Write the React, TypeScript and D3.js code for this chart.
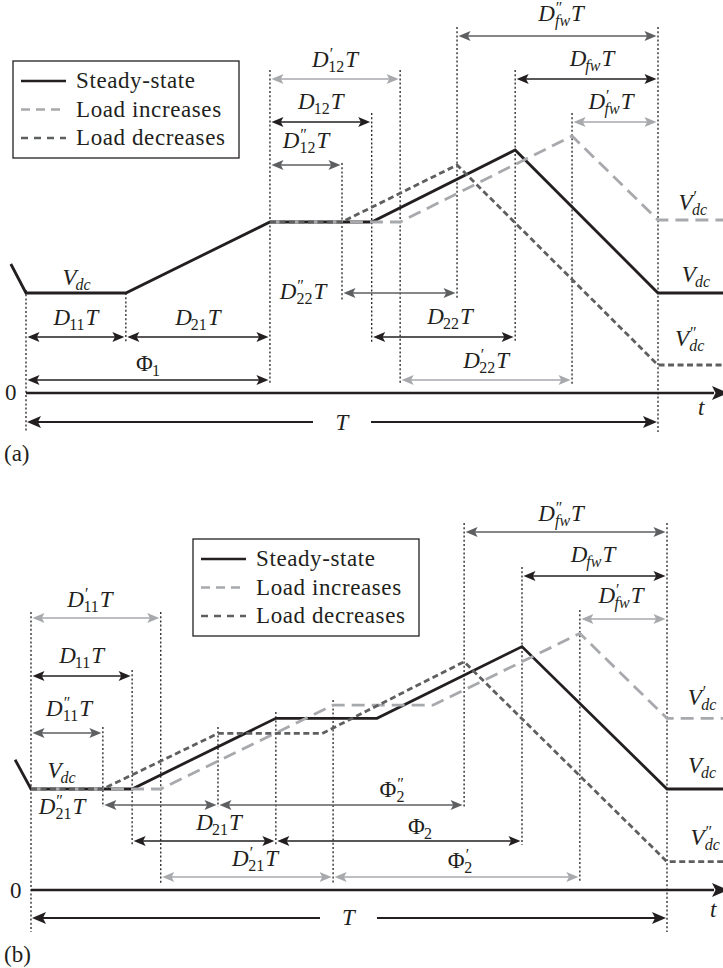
import * as d3 from 'd3';

type Pt = [number, number];
type Kind = 'steady' | 'increase' | 'decrease';
type Sym = { m: string; p: number; s: string; t: string };

// time in % of the period T, voltage in units of the steady-state Vdc
// ---- panel (a)
const steadyA: Pt[] = [[-2.4, 1.29], [0, 1], [15.8, 1], [38.6, 1.71], [54.7, 1.71], [77.4, 2.43], [100, 1], [111, 1]];
const increaseA: Pt[] = [[38.6, 1.71], [59.2, 1.71], [86.4, 2.57], [100, 1.73], [111, 1.73]];
const decreaseA: Pt[] = [[38.6, 1.71], [50, 1.71], [68.2, 2.28], [100, 0.28], [111, 0.28]];
const guideTimesA = [0, 15.8, 38.6, 50, 54.7, 59.2, 68.2, 77.4, 86.4, 100];

// ---- panel (b)
const steadyB: Pt[] = [[-2.5, 1.29], [0, 1], [15.9, 1], [38.5, 1.7], [54.4, 1.7], [77.2, 2.41], [100, 1], [111, 1]];
const increaseB: Pt[] = [[0, 1], [20.4, 1], [47.5, 1.83], [63.2, 1.83], [86.3, 2.54], [100, 1.7], [111, 1.7]];
const decreaseB: Pt[] = [[0, 1], [11.3, 1], [29.4, 1.55], [45.8, 1.55], [68.1, 2.26], [100, 0.28], [111, 0.28]];
const guideTimesB = [0, 11.3, 15.9, 20.4, 29.4, 38.5, 47.5, 68.1, 77.2, 86.3, 100];

const legendLabels = ['Steady-state', 'Load increases', 'Load decreases'];
const legendKinds: Kind[] = ['steady', 'increase', 'decrease'];

const S = (m: string, p: number, s: string, t = ''): Sym => ({ m, p, s, t });

// dimension arrows: [symbol, t0, t1, kind]
const spansA: [Sym, number, number, Kind][] = [
  [S('D', 1, '12', 'T'), 38.6, 59.2, 'increase'],
  [S('D', 0, '12', 'T'), 38.6, 54.7, 'steady'],
  [S('D', 2, '12', 'T'), 38.6, 50, 'decrease'],
  [S('D', 2, 'fw', 'T'), 68.2, 100, 'decrease'],
  [S('D', 0, 'fw', 'T'), 77.4, 100, 'steady'],
  [S('D', 1, 'fw', 'T'), 86.4, 100, 'increase'],
  [S('D', 0, '11', 'T'), 0, 15.8, 'steady'],
  [S('D', 0, '21', 'T'), 15.8, 38.6, 'steady'],
  [S('Φ', 0, '1'), 0, 38.6, 'steady'],
  [S('D', 2, '22', 'T'), 50, 68.2, 'decrease'],
  [S('D', 0, '22', 'T'), 54.7, 77.4, 'steady'],
  [S('D', 1, '22', 'T'), 59.2, 86.4, 'increase'],
];

const spansB: [Sym, number, number, Kind][] = [
  [S('D', 1, '11', 'T'), 0, 20.4, 'increase'],
  [S('D', 0, '11', 'T'), 0, 15.9, 'steady'],
  [S('D', 2, '11', 'T'), 0, 11.3, 'decrease'],
  [S('D', 2, 'fw', 'T'), 68.1, 100, 'decrease'],
  [S('D', 0, 'fw', 'T'), 77.2, 100, 'steady'],
  [S('D', 1, 'fw', 'T'), 86.3, 100, 'increase'],
  [S('D', 2, '21', 'T'), 11.3, 29.4, 'decrease'],
  [S('Φ', 2, '2'), 29.4, 68.1, 'decrease'],
  [S('D', 0, '21', 'T'), 15.9, 38.5, 'steady'],
  [S('Φ', 0, '2'), 38.5, 77.2, 'steady'],
  [S('D', 1, '21', 'T'), 20.4, 47.5, 'increase'],
  [S('Φ', 1, '2'), 47.5, 86.3, 'increase'],
];

// end-level labels: [symbol, t, v]
const levelsA: [Sym, number, number][] = [
  [S('V', 0, 'dc'), 8, 1],
  [S('V', 1, 'dc'), 105.5, 1.73],
  [S('V', 0, 'dc'), 106, 1],
  [S('V', 2, 'dc'), 105, 0.28],
];
const levelsB: [Sym, number, number][] = [
  [S('V', 0, 'dc'), 4.8, 1],
  [S('V', 1, 'dc'), 105.5, 1.7],
  [S('V', 0, 'dc'), 105.5, 1],
  [S('V', 2, 'dc'), 106, 0.28],
];

// ---- layout (pixels)
const FONT = 'Liberation Serif, Times New Roman, serif';
const FS = 23;
const SUB = 16;
const INK = '#231f20';
const color: Record<Kind, string> = { steady: '#231f20', increase: '#a7a9ac', decrease: '#5e5f61' };
const dash: Record<Kind, string | undefined> = { steady: undefined, increase: '13,7', decrease: '6,3.5' };

// per span: [row y, label x (null = middle), label baseline (null = row - 12)]
const spanLayoutA: [number, number | null, number | null][] = [
  [79, null, null], [122, null, 109], [165, null, 148],
  [36, 561, 21], [79, 592, 66], [122, 611, 109],
  [337, null, 325], [337, null, 325], [380, null, 371],
  [293, 303, 299], [337, 450, 324], [380, null, 368],
];
const spanLayoutB: [number, number | null, number | null][] = [
  [618, 90, 607], [676, null, 663], [733, 69, 716],
  [532, 561, 521], [576, 593, 562], [619, 621, 603],
  [805, 62, 814], [805, 392, 797], [841, 219, 830],
  [841, 420, 834], [877, 255, 866], [877, 460, 868],
];
const guideExtentA: [number, number][] = [
  [290, 432], [293, 343], [70, 385], [163, 300], [113, 343], [70, 385], [27, 300], [70, 342], [113, 385], [27, 432],
];
const guideExtentB: [number, number][] = [
  [612, 932], [727, 807], [670, 845], [612, 883], [727, 807], [712, 845], [700, 883], [523, 807], [567, 845], [610, 883], [523, 932],
];
const levelDyA = [-8, -10, -11, -19];
const levelDyB = [-11, -13, -16, -17];

function head(x: number, y: number, dir: number, len = 12, hw = 5) {
  const bx = x - dir * len;
  const nx = x - dir * len * 0.78;
  return `M${x},${y}L${bx},${y - hw}L${nx},${y}L${bx},${y + hw}Z`;
}

function Label({ sym, x, y }: { sym: Sym; x: number; y: number }) {
  const primes = sym.p === 2 ? '\u2033' : sym.p === 1 ? '\u2032' : '';
  const subItalic = /[a-z]/.test(sym.s);
  return (
    <text x={x} y={y} textAnchor="middle" fontFamily={FONT} fontSize={FS} fill={INK}>
      <tspan fontStyle={sym.m === 'Φ' ? 'normal' : 'italic'}>{sym.m}</tspan>
      {primes && (
        <tspan fontSize={SUB} fontStyle="italic" dy={-8}>
          {primes}
        </tspan>
      )}
      <tspan
        fontSize={SUB}
        fontStyle={subItalic ? 'italic' : 'normal'}
        dx={primes ? (sym.p === 2 ? -6.5 : -4) : -1}
        dy={primes ? 13 : 5}
      >
        {sym.s}
      </tspan>
      {sym.t && (
        <tspan fontStyle="italic" dy={-5} dx={1}>
          {sym.t}
        </tspan>
      )}
    </text>
  );
}

function Legend({ x, y }: { x: number; y: number }) {
  return (
    <g transform={`translate(${x},${y})`}>
      <rect x={0} y={0} width={226} height={97} fill="white" stroke={INK} strokeWidth={1.3} />
      {legendLabels.map((lab, i) => {
        const ry = 20 + i * 28.5;
        return (
          <g key={lab}>
            <line x1={8} x2={53} y1={ry} y2={ry} stroke={color[legendKinds[i]]} strokeWidth={2.6}
              strokeDasharray={i === 0 ? undefined : i === 1 ? '9,6' : '7,6'} />
            <text x={63} y={ry + 7} fontFamily={FONT} fontSize={FS} letterSpacing={0.6} fill={INK}>{lab}</text>
          </g>
        );
      })}
    </g>
  );
}

type PanelProps = {
  x0: number; x1: number; yAxis: number; yVdc: number;
  curves: Record<Kind, Pt[]>;
  spans: [Sym, number, number, Kind][];
  spanLayout: [number, number | null, number | null][];
  guides: number[]; guideExtent: [number, number][];
  levels: [Sym, number, number][]; levelDy: number[];
  tRow: number; tGap: [number, number]; tLabelY: number;
  legend: [number, number];
  zero: [number, number]; tText: [number, number];
  tag: string; tagY: number;
};

function Panel(p: PanelProps) {
  const x = d3.scaleLinear().domain([0, 100]).range([p.x0, p.x1]);
  const y = d3.scaleLinear().domain([0, 1]).range([p.yAxis, p.yVdc]);
  const line = d3.line<Pt>().x((d) => x(d[0])).y((d) => y(d[1]));
  const order: Kind[] = ['steady', 'increase', 'decrease'];
  const axisEnd = 724;
  return (
    <g>
      {/* dotted guides */}
      {p.guides.map((t, i) => (
        <line key={`g${i}`} x1={x(t)} x2={x(t)} y1={p.guideExtent[i][0]} y2={p.guideExtent[i][1]}
          stroke={INK} strokeWidth={1.3} strokeDasharray="2,2.2" />
      ))}

      {/* waveforms */}
      {order.map((k) => (
        <path key={k} d={line(p.curves[k]) || ''} fill="none" stroke={color[k]} strokeWidth={2.8}
          strokeDasharray={dash[k]} strokeLinejoin="miter" />
      ))}

      {/* time axis */}
      <line x1={x(0)} x2={axisEnd - 10} y1={y(0)} y2={y(0)} stroke={INK} strokeWidth={2.6} />
      <path d={head(axisEnd + 4, y(0), 1, 16, 7)} fill={INK} />
      <text x={p.zero[0]} y={p.zero[1]} fontFamily={FONT} fontSize={FS} fill={INK}>0</text>
      <text x={p.tText[0]} y={p.tText[1]} fontFamily={FONT} fontSize={FS} fontStyle="italic" fill={INK}>t</text>

      {/* period T */}
      <line x1={x(0) + 8} x2={p.tGap[0]} y1={p.tRow} y2={p.tRow} stroke={INK} strokeWidth={2} />
      <line x1={p.tGap[1]} x2={x(100) - 8} y1={p.tRow} y2={p.tRow} stroke={INK} strokeWidth={2} />
      <path d={head(x(0) + 1, p.tRow, -1, 14, 6)} fill={INK} />
      <path d={head(x(100) - 1, p.tRow, 1, 14, 6)} fill={INK} />
      <text x={(p.tGap[0] + p.tGap[1]) / 2} y={p.tLabelY} textAnchor="middle" fontFamily={FONT}
        fontSize={FS} fontStyle="italic" fill={INK}>T</text>

      {/* dimension arrows */}
      {p.spans.map(([sym, t0, t1, kind], i) => {
        const [ry, lx, ly] = p.spanLayout[i];
        const a = x(t0) + 1.5;
        const b = x(t1) - 1.5;
        return (
          <g key={`s${i}`}>
            <line x1={a + 6} x2={b - 6} y1={ry} y2={ry} stroke={color[kind]} strokeWidth={1.7} />
            <path d={head(a, ry, -1)} fill={color[kind]} />
            <path d={head(b, ry, 1)} fill={color[kind]} />
            <Label sym={sym} x={lx ?? (a + b) / 2} y={ly ?? ry - 12} />
          </g>
        );
      })}

      {/* level labels */}
      {p.levels.map(([sym, t, v], i) => (
        <Label key={`l${i}`} sym={sym} x={x(t)} y={y(v) + p.levelDy[i]} />
      ))}

      <Legend x={p.legend[0]} y={p.legend[1]} />
      <text x={4} y={p.tagY} fontFamily={FONT} fontSize={FS} fill={INK}>{p.tag}</text>
    </g>
  );
}

export default function App() {
  return (
    <svg width={723} height={968} style={{ position: 'absolute', left: 0, top: 0, background: 'white' }}>
      <rect width={723} height={968} fill="white" />
      <Panel
        x0={26} x1={658} yAxis={393} yVdc={293}
        curves={{ steady: steadyA, increase: increaseA, decrease: decreaseA }}
        spans={spansA} spanLayout={spanLayoutA}
        guides={guideTimesA} guideExtent={guideExtentA}
        levels={levelsA} levelDy={levelDyA}
        tRow={422} tGap={[313, 371]} tLabelY={430}
        legend={[13, 61]} zero={[5, 400]} tText={[698, 415]}
        tag="(a)" tagY={461}
      />
      <Panel
        x0={31} x1={667} yAxis={890} yVdc={789}
        curves={{ steady: steadyB, increase: increaseB, decrease: decreaseB }}
        spans={spansB} spanLayout={spanLayoutB}
        guides={guideTimesB} guideExtent={guideExtentB}
        levels={levelsB} levelDy={levelDyB}
        tRow={918} tGap={[320, 377]} tLabelY={925}
        legend={[193, 539]} zero={[10, 898]} tText={[710, 917]}
        tag="(b)" tagY={962}
      />
    </svg>
  );
}
